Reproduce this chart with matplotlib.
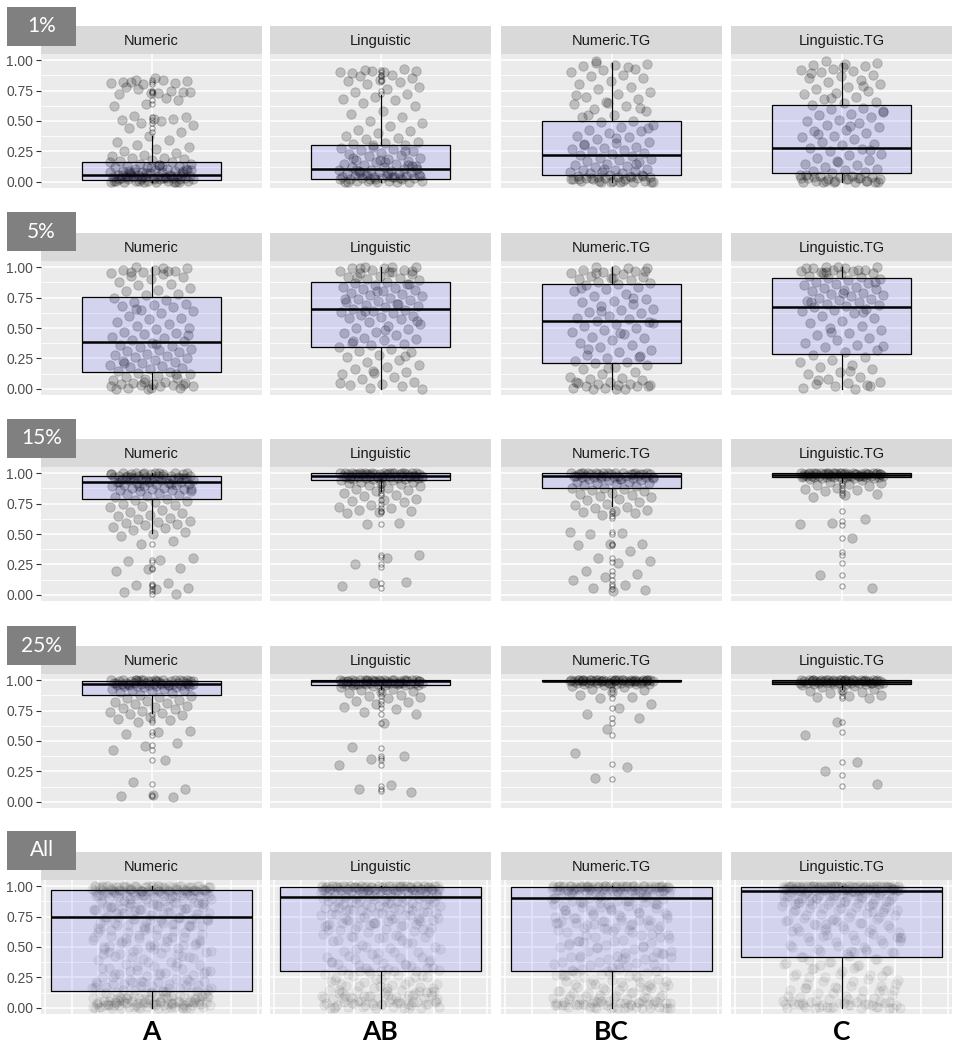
import numpy as np
import matplotlib.pyplot as plt

W, H = 957, 1048

rows = ["1%", "5%", "15%", "25%", "All"]
facets = ["Numeric", "Linguistic", "Numeric.TG", "Linguistic.TG"]
groups = ["A", "AB", "BC", "C"]

# ---- jittered scores -------------------------------------------------------
numeric_1 = [0.84, 0.83, 0.85, 0.82, 0.81, 0.80, 0.81, 0.84, 0.82, 0.74, 0.73, 0.72,
             0.75, 0.76, 0.74, 0.73, 0.78, 0.67, 0.64, 0.62, 0.69, 0.54, 0.53, 0.52,
             0.51, 0.52, 0.48, 0.47, 0.50, 0.44, 0.41, 0.38, 0.33, 0.34, 0.30, 0.29,
             0.27, 0.25, 0.24, 0.22, 0.21, 0.20, 0.20, 0.19, 0.18, 0.17, 0.16, 0.15,
             0.15, 0.14, 0.13, 0.13, 0.12, 0.12, 0.11, 0.11, 0.10, 0.10, 0.09, 0.09,
             0.08, 0.08, 0.08, 0.07, 0.07, 0.07, 0.06, 0.06, 0.06, 0.05, 0.05, 0.05,
             0.05, 0.04, 0.04, 0.04, 0.04, 0.03, 0.03, 0.03, 0.03, 0.02, 0.02, 0.02,
             0.02, 0.02, 0.01, 0.01, 0.01, 0.01, 0.01, 0.00, 0.00, 0.00, 0.00, 0.00,
             0.03, 0.06, 0.09, 0.12, 0.02, 0.05, 0.01, 0.10, 0.14, 0.04, 0.00, 0.07,
             0.01, 0.03, 0.08, 0.11, 0.02, 0.06, 0.00, 0.04, 0.16, 0.13, 0.09, 0.05]
linguistic_1 = [0.92, 0.91, 0.90, 0.89, 0.93, 0.91, 0.90, 0.88, 0.87, 0.85, 0.84, 0.83,
                0.82, 0.80, 0.78, 0.76, 0.74, 0.72, 0.70, 0.68, 0.67, 0.65, 0.62, 0.58,
                0.56, 0.53, 0.50, 0.48, 0.46, 0.43, 0.42, 0.40, 0.38, 0.36, 0.35, 0.33,
                0.32, 0.31, 0.30, 0.29, 0.28, 0.27, 0.26, 0.25, 0.24, 0.23, 0.22, 0.21,
                0.20, 0.19, 0.18, 0.17, 0.16, 0.15, 0.15, 0.14, 0.13, 0.12, 0.12, 0.11,
                0.10, 0.10, 0.09, 0.09, 0.08, 0.08, 0.07, 0.07, 0.06, 0.06, 0.05, 0.05,
                0.05, 0.04, 0.04, 0.04, 0.03, 0.03, 0.03, 0.02, 0.02, 0.02, 0.01, 0.01,
                0.01, 0.00, 0.00, 0.00, 0.00, 0.06, 0.11, 0.16, 0.20, 0.25, 0.30, 0.02,
                0.04, 0.08, 0.13, 0.18, 0.00, 0.03, 0.01, 0.05, 0.07, 0.10, 0.14, 0.02]
numeric_tg_1 = [0.98, 0.97, 0.96, 0.95, 0.93, 0.92, 0.90, 0.88, 0.87, 0.85, 0.83, 0.80,
                0.78, 0.76, 0.74, 0.72, 0.70, 0.68, 0.66, 0.64, 0.62, 0.60, 0.58, 0.55,
                0.53, 0.50, 0.49, 0.47, 0.45, 0.43, 0.42, 0.40, 0.38, 0.37, 0.35, 0.33,
                0.32, 0.30, 0.29, 0.28, 0.27, 0.26, 0.25, 0.24, 0.23, 0.22, 0.21, 0.20,
                0.19, 0.18, 0.17, 0.16, 0.15, 0.14, 0.13, 0.12, 0.11, 0.10, 0.10, 0.09,
                0.08, 0.08, 0.07, 0.07, 0.06, 0.06, 0.05, 0.05, 0.04, 0.04, 0.04, 0.03,
                0.03, 0.03, 0.02, 0.02, 0.02, 0.01, 0.01, 0.01, 0.00, 0.00, 0.00, 0.00,
                0.55, 0.61, 0.65, 0.71, 0.94, 0.99, 0.44, 0.36, 0.31, 0.15, 0.11, 0.02,
                0.01, 0.03, 0.05, 0.00, 0.02, 0.04, 0.01, 0.00]
linguistic_tg_1 = [0.99, 0.98, 0.97, 0.96, 0.95, 0.93, 0.92, 0.91, 0.90, 0.88, 0.87, 0.85,
                   0.84, 0.82, 0.80, 0.78, 0.76, 0.75, 0.73, 0.72, 0.70, 0.68, 0.66, 0.65,
                   0.63, 0.61, 0.60, 0.58, 0.56, 0.55, 0.53, 0.51, 0.50, 0.48, 0.47, 0.45,
                   0.43, 0.42, 0.40, 0.38, 0.37, 0.35, 0.33, 0.31, 0.30, 0.28, 0.27, 0.25,
                   0.23, 0.22, 0.20, 0.18, 0.17, 0.15, 0.14, 0.12, 0.11, 0.10, 0.09, 0.08,
                   0.07, 0.06, 0.05, 0.05, 0.04, 0.04, 0.03, 0.03, 0.02, 0.02, 0.02, 0.01,
                   0.01, 0.01, 0.00, 0.00, 0.00, 0.00, 0.94, 0.89, 0.79, 0.69, 0.57, 0.46,
                   0.39, 0.26, 0.16, 0.06, 0.03, 0.01, 0.00, 0.02, 0.04, 0.01, 0.00, 0.03]

numeric_5 = [1.00, 0.99, 0.98, 0.98, 0.97, 0.96, 0.95, 0.94, 0.93, 0.92, 0.90, 0.88,
             0.86, 0.85, 0.83, 0.81, 0.80, 0.78, 0.77, 0.75, 0.73, 0.71, 0.70, 0.69,
             0.68, 0.67, 0.65, 0.64, 0.62, 0.60, 0.58, 0.57, 0.55, 0.53, 0.52, 0.50,
             0.49, 0.47, 0.46, 0.45, 0.43, 0.42, 0.40, 0.39, 0.38, 0.36, 0.35, 0.34,
             0.33, 0.32, 0.31, 0.30, 0.29, 0.28, 0.27, 0.26, 0.25, 0.24, 0.23, 0.22,
             0.21, 0.20, 0.19, 0.18, 0.17, 0.16, 0.15, 0.14, 0.13, 0.12, 0.11, 0.10,
             0.09, 0.08, 0.07, 0.06, 0.05, 0.05, 0.04, 0.04, 0.03, 0.03, 0.02, 0.02,
             0.01, 0.01, 0.00, 0.00, 0.97, 0.66, 0.44, 0.37, 0.21, 0.12, 0.06, 0.02,
             0.99, 0.96, 0.03, 0.01]
linguistic_5 = [1.00, 1.00, 0.99, 0.99, 0.98, 0.98, 0.97, 0.96, 0.95, 0.94, 0.93, 0.92,
                0.91, 0.90, 0.89, 0.88, 0.87, 0.86, 0.85, 0.84, 0.83, 0.82, 0.81, 0.80,
                0.79, 0.78, 0.77, 0.76, 0.75, 0.74, 0.73, 0.72, 0.71, 0.70, 0.69, 0.68,
                0.67, 0.66, 0.65, 0.64, 0.63, 0.62, 0.61, 0.60, 0.59, 0.58, 0.57, 0.55,
                0.53, 0.52, 0.50, 0.49, 0.47, 0.46, 0.44, 0.42, 0.41, 0.40, 0.38, 0.37,
                0.36, 0.34, 0.33, 0.31, 0.30, 0.28, 0.26, 0.24, 0.22, 0.20, 0.18, 0.16,
                0.14, 0.13, 0.12, 0.10, 0.08, 0.06, 0.04, 0.03, 0.02, 0.01, 0.00, 0.96,
                0.92, 0.86, 0.80, 0.74, 0.70, 0.64, 0.56, 0.48, 0.39, 0.27, 0.15, 0.05,
                1.00, 0.99, 0.97]
numeric_tg_5 = [1.00, 0.99, 0.98, 0.98, 0.97, 0.96, 0.95, 0.94, 0.93, 0.92, 0.91, 0.90,
                0.89, 0.88, 0.87, 0.86, 0.85, 0.84, 0.82, 0.80, 0.78, 0.76, 0.74, 0.72,
                0.71, 0.70, 0.68, 0.66, 0.65, 0.63, 0.62, 0.60, 0.58, 0.57, 0.56, 0.55,
                0.53, 0.52, 0.50, 0.48, 0.47, 0.45, 0.43, 0.42, 0.40, 0.38, 0.36, 0.34,
                0.32, 0.30, 0.28, 0.26, 0.25, 0.23, 0.22, 0.21, 0.20, 0.18, 0.16, 0.14,
                0.12, 0.10, 0.09, 0.08, 0.07, 0.06, 0.05, 0.04, 0.04, 0.03, 0.03, 0.02,
                0.02, 0.01, 0.01, 0.00, 0.00, 0.97, 0.91, 0.83, 0.75, 0.64, 0.54, 0.46,
                0.33, 0.27, 0.17, 0.06, 0.99, 0.95, 0.02, 0.00]
linguistic_tg_5 = [1.00, 1.00, 0.99, 0.99, 0.98, 0.98, 0.97, 0.97, 0.96, 0.95, 0.94, 0.93,
                   0.92, 0.91, 0.90, 0.89, 0.88, 0.87, 0.86, 0.85, 0.84, 0.83, 0.82, 0.81,
                   0.80, 0.79, 0.78, 0.77, 0.76, 0.75, 0.74, 0.73, 0.72, 0.71, 0.70, 0.69,
                   0.68, 0.67, 0.66, 0.65, 0.64, 0.62, 0.60, 0.58, 0.56, 0.54, 0.52, 0.50,
                   0.48, 0.46, 0.44, 0.42, 0.40, 0.38, 0.36, 0.34, 0.32, 0.30, 0.28, 0.26,
                   0.24, 0.22, 0.20, 0.18, 0.16, 0.14, 0.12, 0.10, 0.08, 0.06, 0.05, 0.04,
                   0.03, 0.02, 0.01, 0.00, 0.95, 0.88, 0.79, 0.71, 0.63, 0.47, 0.35, 0.15,
                   0.07, 0.02, 1.00, 0.99, 0.98, 0.96]

numeric_15 = [1.00, 1.00, 1.00, 1.00, 1.00, 0.99, 0.99, 0.99, 0.99, 0.99, 0.99, 0.98,
              0.98, 0.98, 0.98, 0.98, 0.97, 0.97, 0.97, 0.97, 0.96, 0.96, 0.96, 0.96,
              0.95, 0.95, 0.95, 0.94, 0.94, 0.94, 0.93, 0.93, 0.93, 0.92, 0.92, 0.91,
              0.91, 0.90, 0.90, 0.89, 0.89, 0.88, 0.88, 0.87, 0.87, 0.86, 0.86, 0.85,
              0.85, 0.84, 0.83, 0.82, 0.81, 0.80, 0.79, 0.78, 0.77, 0.76, 0.75, 0.74,
              0.73, 0.72, 0.70, 0.68, 0.67, 0.66, 0.65, 0.63, 0.62, 0.61, 0.60, 0.59,
              0.58, 0.57, 0.56, 0.55, 0.53, 0.52, 0.50, 0.48, 0.44, 0.42, 0.30, 0.29,
              0.28, 0.22, 0.21, 0.20, 0.10, 0.08, 0.06, 0.05, 0.02, 0.01, 1.00, 0.99,
              0.98, 0.97, 0.96, 0.95, 0.93, 0.91, 0.89, 0.87, 1.00, 0.98, 0.96, 0.94]
linguistic_15 = [1.00, 1.00, 1.00, 1.00, 1.00, 1.00, 1.00, 1.00, 1.00, 1.00, 0.99, 0.99,
                 0.99, 0.99, 0.99, 0.99, 0.99, 0.99, 0.99, 0.98, 0.98, 0.98, 0.98, 0.98,
                 0.98, 0.98, 0.98, 0.97, 0.97, 0.97, 0.97, 0.97, 0.97, 0.96, 0.96, 0.96,
                 0.96, 0.95, 0.95, 0.95, 0.94, 0.94, 0.93, 0.93, 0.92, 0.92, 0.91, 0.90,
                 0.89, 0.88, 0.87, 0.86, 0.85, 0.84, 0.82, 0.81, 0.79, 0.78, 0.77, 0.76,
                 0.74, 0.72, 0.71, 0.70, 0.69, 0.68, 0.67, 0.59, 0.58, 0.33, 0.30, 0.25,
                 0.11, 0.10, 0.07, 1.00, 0.99, 0.98, 0.97, 0.96, 1.00, 0.99, 0.98, 1.00,
                 0.99, 0.98, 0.97, 1.00]
numeric_tg_15 = [1.00, 1.00, 1.00, 1.00, 1.00, 1.00, 1.00, 1.00, 0.99, 0.99, 0.99, 0.99,
                 0.99, 0.99, 0.99, 0.98, 0.98, 0.98, 0.98, 0.98, 0.98, 0.97, 0.97, 0.97,
                 0.97, 0.96, 0.96, 0.96, 0.95, 0.95, 0.94, 0.94, 0.93, 0.93, 0.92, 0.92,
                 0.91, 0.90, 0.89, 0.88, 0.88, 0.87, 0.86, 0.85, 0.84, 0.83, 0.82, 0.81,
                 0.80, 0.79, 0.78, 0.76, 0.75, 0.74, 0.72, 0.71, 0.70, 0.69, 0.68, 0.67,
                 0.66, 0.52, 0.51, 0.50, 0.42, 0.42, 0.41, 0.36, 0.30, 0.28, 0.26, 0.20,
                 0.17, 0.15, 0.12, 0.08, 0.06, 0.04, 0.03, 1.00, 0.99, 0.98, 0.97, 0.95,
                 1.00, 0.99, 1.00, 0.98]
linguistic_tg_15 = [1.00, 1.00, 1.00, 1.00, 1.00, 1.00, 1.00, 1.00, 1.00, 1.00, 1.00, 1.00,
                    0.99, 0.99, 0.99, 0.99, 0.99, 0.99, 0.99, 0.99, 0.99, 0.99, 0.99, 0.99,
                    0.98, 0.98, 0.98, 0.98, 0.98, 0.98, 0.98, 0.98, 0.98, 0.98, 0.97, 0.97,
                    0.97, 0.97, 0.97, 0.97, 0.97, 0.96, 0.96, 0.96, 0.95, 0.95, 0.94, 0.93,
                    0.92, 0.91, 0.90, 0.89, 0.88, 0.87, 0.86, 0.85, 0.83, 0.82, 0.80, 0.62,
                    0.59, 0.58, 0.47, 0.16, 0.06, 1.00, 0.99, 0.98, 1.00, 0.99, 0.98, 1.00,
                    0.99, 1.00, 0.98, 0.99]

numeric_25 = [1.00, 1.00, 1.00, 1.00, 1.00, 1.00, 1.00, 1.00, 0.99, 0.99, 0.99, 0.99,
              0.99, 0.99, 0.99, 0.99, 0.98, 0.98, 0.98, 0.98, 0.98, 0.98, 0.98, 0.97,
              0.97, 0.97, 0.97, 0.97, 0.97, 0.96, 0.96, 0.96, 0.96, 0.96, 0.95, 0.95,
              0.95, 0.95, 0.94, 0.94, 0.93, 0.93, 0.92, 0.92, 0.91, 0.90, 0.89, 0.88,
              0.87, 0.86, 0.85, 0.84, 0.83, 0.82, 0.81, 0.80, 0.79, 0.78, 0.77, 0.76,
              0.75, 0.74, 0.73, 0.72, 0.71, 0.70, 0.68, 0.67, 0.66, 0.58, 0.57, 0.56,
              0.48, 0.46, 0.43, 0.34, 0.16, 0.11, 0.06, 0.05, 0.04, 1.00, 0.99, 0.98,
              0.97, 1.00, 0.99, 0.98, 0.96, 1.00, 0.97, 0.99]
linguistic_25 = [1.00, 1.00, 1.00, 1.00, 1.00, 1.00, 1.00, 1.00, 1.00, 1.00, 0.99, 0.99,
                 0.99, 0.99, 0.99, 0.99, 0.99, 0.99, 0.99, 0.99, 0.98, 0.98, 0.98, 0.98,
                 0.98, 0.98, 0.98, 0.98, 0.98, 0.97, 0.97, 0.97, 0.97, 0.97, 0.97, 0.96,
                 0.96, 0.96, 0.96, 0.95, 0.94, 0.93, 0.92, 0.91, 0.90, 0.89, 0.88, 0.87,
                 0.86, 0.85, 0.83, 0.82, 0.80, 0.78, 0.76, 0.74, 0.72, 0.65, 0.45, 0.38,
                 0.35, 0.30, 0.14, 0.11, 0.08, 1.00, 0.99, 0.98, 1.00, 0.99, 0.98, 0.97,
                 1.00, 0.99, 0.98, 1.00]
numeric_tg_25 = [1.00, 1.00, 1.00, 1.00, 1.00, 1.00, 1.00, 1.00, 1.00, 1.00, 1.00, 1.00,
                 1.00, 1.00, 1.00, 1.00, 0.99, 0.99, 0.99, 0.99, 0.99, 0.99, 0.99, 0.99,
                 0.99, 0.99, 0.99, 0.99, 0.98, 0.98, 0.98, 0.98, 0.98, 0.98, 0.98, 0.97,
                 0.97, 0.97, 0.97, 0.96, 0.95, 0.94, 0.93, 0.92, 0.90, 0.88, 0.86, 0.85,
                 0.80, 0.77, 0.72, 0.69, 0.60, 0.40, 0.29, 0.20, 1.00, 1.00, 1.00, 0.99,
                 0.99, 0.99, 1.00, 1.00, 0.99, 0.98, 1.00, 0.99]
linguistic_tg_25 = [1.00, 1.00, 1.00, 1.00, 1.00, 1.00, 1.00, 1.00, 1.00, 1.00, 1.00, 1.00,
                    1.00, 1.00, 0.99, 0.99, 0.99, 0.99, 0.99, 0.99, 0.99, 0.99, 0.99, 0.99,
                    0.99, 0.99, 0.98, 0.98, 0.98, 0.98, 0.98, 0.98, 0.98, 0.98, 0.98, 0.97,
                    0.97, 0.97, 0.97, 0.97, 0.96, 0.95, 0.94, 0.93, 0.92, 0.91, 0.90, 0.89,
                    0.88, 0.87, 0.86, 0.85, 0.66, 0.55, 0.33, 0.25, 0.15, 1.00, 1.00, 0.99,
                    0.99, 0.98, 1.00, 0.99, 0.98, 1.00]

# ---- box statistics (rows x facets) ----------------------------------------
q1 = [[0.019, 0.027, 0.054, 0.073],
      [0.139, 0.343, 0.210, 0.290],
      [0.785, 0.940, 0.880, 0.970],
      [0.876, 0.962, 0.990, 0.970],
      [0.139, 0.306, 0.306, 0.417]]
med = [[0.057, 0.109, 0.217, 0.277],
       [0.382, 0.659, 0.560, 0.670],
       [0.926, 0.980, 0.980, 0.985],
       [0.968, 0.990, 0.995, 0.985],
       [0.750, 0.911, 0.900, 0.958]]
q3 = [[0.160, 0.307, 0.503, 0.630],
      [0.753, 0.881, 0.860, 0.910],
      [0.980, 1.000, 1.000, 1.000],
      [0.995, 1.000, 1.000, 1.000],
      [0.964, 0.990, 0.990, 0.990]]
whisk_lo = [[0.00, 0.00, 0.00, 0.00],
            [0.00, 0.00, 0.00, 0.00],
            [0.51, 0.85, 0.73, 0.93],
            [0.73, 0.93, 0.98, 0.93],
            [0.00, 0.00, 0.00, 0.00]]
whisk_hi = [[0.38, 0.71, 0.98, 0.98],
            [1.00, 1.00, 1.00, 1.00],
            [1.00, 1.00, 1.00, 1.00],
            [1.00, 1.00, 1.00, 1.00],
            [1.00, 1.00, 1.00, 1.00]]
outliers = [
    [[0.84, 0.82, 0.80, 0.75, 0.74, 0.73, 0.67, 0.64, 0.53, 0.51, 0.48, 0.44, 0.41],
     [0.92, 0.90, 0.88, 0.87, 0.84, 0.83, 0.75, 0.72], [], []],
    [[], [], [], []],
    [[0.42, 0.29, 0.27, 0.22, 0.21, 0.09, 0.08, 0.07, 0.05, 0.03, 0.01],
     [0.92, 0.90, 0.88, 0.86, 0.84, 0.82, 0.78, 0.75, 0.71, 0.69, 0.68, 0.58, 0.33,
      0.31, 0.25, 0.23, 0.10, 0.06],
     [0.69, 0.67, 0.65, 0.63, 0.52, 0.50, 0.42, 0.41, 0.30, 0.27, 0.20, 0.16, 0.12,
      0.09, 0.07, 0.05],
     [0.92, 0.90, 0.88, 0.86, 0.84, 0.82, 0.69, 0.61, 0.57, 0.47, 0.35, 0.33, 0.26,
      0.16, 0.07]],
    [[0.72, 0.67, 0.66, 0.57, 0.55, 0.47, 0.43, 0.34, 0.15, 0.06, 0.05],
     [0.92, 0.90, 0.87, 0.83, 0.80, 0.77, 0.72, 0.65, 0.44, 0.38, 0.36, 0.34, 0.30,
      0.13, 0.11, 0.09],
     [0.96, 0.93, 0.90, 0.85, 0.77, 0.69, 0.65, 0.55, 0.31, 0.19],
     [0.93, 0.90, 0.87, 0.85, 0.66, 0.57, 0.33, 0.22, 0.13]],
    [[], [], [], []],
]

scores = [
    [numeric_1, linguistic_1, numeric_tg_1, linguistic_tg_1],
    [numeric_5, linguistic_5, numeric_tg_5, linguistic_tg_5],
    [numeric_15, linguistic_15, numeric_tg_15, linguistic_tg_15],
    [numeric_25, linguistic_25, numeric_tg_25, linguistic_tg_25],
]
# the "All" row pools the four sample sizes
scores.append([scores[0][j] + scores[1][j] + scores[2][j] + scores[3][j] for j in range(4)])

# ---- layout (pixels) -------------------------------------------------------
col_x = [41, 270, 501, 731]
panel_w = 221
row_top = [54, 261, 467, 674, 880]
panel_h = 134
strip_h = 28
tag_top = [7, 212, 419, 626, 831]


def rect(x, y, w, h):
    return [x / W, 1 - (y + h) / H, w / W, h / H]


fig = plt.figure(figsize=(W / 100, H / 100), dpi=100)

for i in range(5):
    last = i == 4
    box_half = 0.91 if last else 0.625
    jit_half = 0.54 if last else 0.38
    alpha = 0.06 if last else 0.2
    for j in range(4):
        ax = fig.add_axes(rect(col_x[j], row_top[i], panel_w, panel_h))
        ax.set_facecolor("#EBEBEB")
        for s in ax.spines.values():
            s.set_visible(False)
        ax.set_xlim(-1, 1)
        ax.set_ylim(-0.05, 1.05)
        ax.set_yticks([0, 0.25, 0.5, 0.75, 1.0])
        ax.set_yticks([0.125, 0.375, 0.625, 0.875], minor=True)
        if last:
            gx = [k * 0.241 for k in range(-4, 5)]
        else:
            gx = [0]
        ax.set_xticks(gx)
        ax.grid(which="major", color="white", lw=1.1)
        ax.grid(which="minor", axis="y", color="white", lw=0.6)
        ax.set_axisbelow(True)
        ax.tick_params(axis="x", length=0, labelbottom=False)
        ax.tick_params(which="minor", length=0)
        if j == 0:
            ax.tick_params(axis="y", length=3.5, width=0.8, color="#333333",
                           labelcolor="#4D4D4D", labelsize=10, pad=2)
            ax.set_yticklabels(["0.00", "0.25", "0.50", "0.75", "1.00"],
                               family="Liberation Sans")
        else:
            ax.tick_params(axis="y", length=0, labelleft=False)

        y = np.array(scores[i][j])
        n = len(y)
        x = jit_half * (2 * ((np.arange(n) * 0.618034 + 0.31) % 1.0) - 1)
        ax.scatter(x, y, s=46, c="black", alpha=alpha, linewidths=0.6,
                   edgecolors="black", zorder=2)

        stats = [dict(med=med[i][j], q1=q1[i][j], q3=q3[i][j],
                      whislo=whisk_lo[i][j], whishi=whisk_hi[i][j],
                      fliers=outliers[i][j])]
        ax.bxp(stats, positions=[0], widths=[2 * box_half], patch_artist=True,
               showcaps=False, manage_ticks=False, zorder=3,
               boxprops=dict(facecolor=(0, 0, 1, 0.1), edgecolor="black", lw=0.9),
               medianprops=dict(color="black", lw=1.8),
               whiskerprops=dict(color="black", lw=0.9),
               flierprops=dict(marker="o", markersize=3.8, markerfacecolor="none",
                               markeredgecolor=(0, 0, 0, 0.35), markeredgewidth=0.8))

        st = fig.add_axes(rect(col_x[j], row_top[i] - strip_h, panel_w, strip_h))
        st.set_facecolor("#D9D9D9")
        st.set_xticks([])
        st.set_yticks([])
        for s in st.spines.values():
            s.set_visible(False)
        st.text(0.5, 0.45, facets[j], ha="center", va="center", fontsize=10.5,
                color="#1A1A1A", family="Liberation Sans", transform=st.transAxes)

    tag = fig.add_axes(rect(7, tag_top[i], 69, 39))
    tag.set_facecolor("#808080")
    tag.set_xticks([])
    tag.set_yticks([])
    for s in tag.spines.values():
        s.set_visible(False)
    tag.set_zorder(5)
    tag.text(0.5, 0.5, rows[i], ha="center", va="center", fontsize=15,
             color="white", family="Lato", transform=tag.transAxes)

for j in range(4):
    fig.text((col_x[j] + panel_w / 2) / W, 1 - 1032 / H, groups[j], ha="center",
             va="center", fontsize=19, fontweight="bold", family="Lato")

fig.savefig("out.png", dpi=100)
